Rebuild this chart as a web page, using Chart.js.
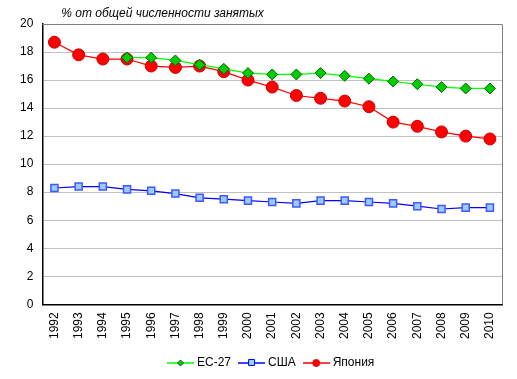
<!DOCTYPE html>
<html><head><meta charset="utf-8">
<script src="https://cdn.jsdelivr.net/npm/chart.js@4/dist/chart.umd.min.js"></script>
<style>html,body{margin:0;padding:0;background:#fff}#w{width:517px;height:379px}</style>
</head><body><div id="w"><canvas id="c"></canvas></div>
<script>
const years = ['1992','1993','1994','1995','1996','1997','1998','1999','2000','2001','2002','2003','2004','2005','2006','2007','2008','2009','2010'];
const eu27 = [null,null,null,17.6,17.6,17.4,17.1,16.8,16.5,16.4,16.4,16.5,16.3,16.1,15.9,15.7,15.5,15.4,15.4];
const usa = [8.3,8.4,8.4,8.2,8.1,7.9,7.6,7.5,7.4,7.3,7.2,7.4,7.4,7.3,7.2,7.0,6.8,6.9,6.9];
const japan = [18.7,17.8,17.5,17.5,17.0,16.9,17.0,16.6,16.0,15.5,14.9,14.7,14.5,14.1,13.0,12.7,12.3,12.0,11.8];
const seriesNames = ['ЕС-27','США','Япония'];
const yTicksMax = 20, yStep = 2;
const titleText = '% от общей численности занятых';
const FONT = '"Liberation Sans", Arial, sans-serif';

function legendIcon(kind){
  const c = document.createElement('canvas'); c.width = 27; c.height = 10;
  const x = c.getContext('2d');
  let line, fill, stroke;
  if(kind===0){line='#00ff00';fill='#00cc00';stroke='#006600';}
  else if(kind===1){line='#0000ff';fill='#99ccff';stroke='#0000ff';}
  else {line='#ff0000';fill='#ff0000';stroke='#cc0000';}
  x.strokeStyle=line; x.lineWidth=1.5; x.beginPath(); x.moveTo(0,5); x.lineTo(27,5); x.stroke();
  x.fillStyle=fill; x.strokeStyle=stroke; x.lineWidth=1;
  x.beginPath();
  if(kind===0){x.moveTo(13.5,2);x.lineTo(16.5,5);x.lineTo(13.5,8);x.lineTo(10.5,5);x.closePath();}
  else if(kind===1){x.rect(10.5,1.5,6,6);}
  else {x.arc(13.5,5,3.5,0,Math.PI*2);}
  x.fill(); x.stroke();
  return c;
}
const icons=[legendIcon(0),legendIcon(1),legendIcon(2)];

const frame = {
  id:'frame',
  afterDraw(ch){
    const {ctx, chartArea:a} = ch;
    ctx.save();
    ctx.strokeStyle='#808080'; ctx.lineWidth=1;
    ctx.beginPath();
    ctx.moveTo(a.left, a.top+0.5); ctx.lineTo(a.right+0.5, a.top+0.5); ctx.lineTo(a.right+0.5, a.bottom);
    ctx.stroke();
    ctx.fillStyle='#000'; ctx.font='italic 12px '+FONT; ctx.textBaseline='alphabetic'; ctx.textAlign='left';
    ctx.fillText(titleText, a.left+19, a.top-7);
    ctx.restore();
  }
};

new Chart(document.getElementById('c'), {
  type:'line',
  data:{labels:years, datasets:[
    {label:seriesNames[0], data:eu27, borderColor:'#00ff00', backgroundColor:'#00cc00', pointBorderColor:'#006600', pointBorderWidth:1, pointStyle:'rectRot', pointRadius:5.5, borderWidth:1.2, spanGaps:false},
    {label:seriesNames[1], data:usa, borderColor:'#0000ff', backgroundColor:'#99ccff', pointBorderColor:'#4455ff', pointBorderWidth:1.5, pointStyle:'rect', pointRadius:5, borderWidth:1.2},
    {label:seriesNames[2], data:japan, borderColor:'#ff0000', backgroundColor:'#ff0000', pointBorderColor:'#cc0000', pointBorderWidth:1, pointStyle:'circle', pointRadius:6, borderWidth:1.2}
  ]},
  options:{
    responsive:true, maintainAspectRatio:false, animation:false,
    layout:{padding:{left:11,right:15,top:24,bottom:0}},
    plugins:{
      title:{display:false},
      tooltip:{enabled:false},
      legend:{position:'bottom', fullSize:false,
        labels:{
        font:{family:FONT,size:12}, color:'#000', usePointStyle:true, pointStyleWidth:21, boxHeight:10, padding:10,
        generateLabels(ch){
          return ch.data.datasets.map((d,i)=>({text:d.label, pointStyle:icons[i], fillStyle:'#fff', strokeStyle:'#fff', lineWidth:0, fontColor:'#000', datasetIndex:i, hidden:false}));
        }
      }}
    },
    scales:{
      x:{offset:true, grid:{display:false, drawTicks:false}, border:{color:'#000', width:1.5},
         ticks:{font:{family:FONT,size:12}, color:'#000', maxRotation:90, minRotation:90, padding:8, autoSkip:false}},
      y:{min:0, max:yTicksMax, grid:{color:'#c0c0c0', drawTicks:false}, border:{color:'#000', width:1.5},
         ticks:{stepSize:yStep, font:{family:FONT,size:12}, color:'#000', padding:9}}
    }
  },
  plugins:[frame]
});
</script></body></html>
